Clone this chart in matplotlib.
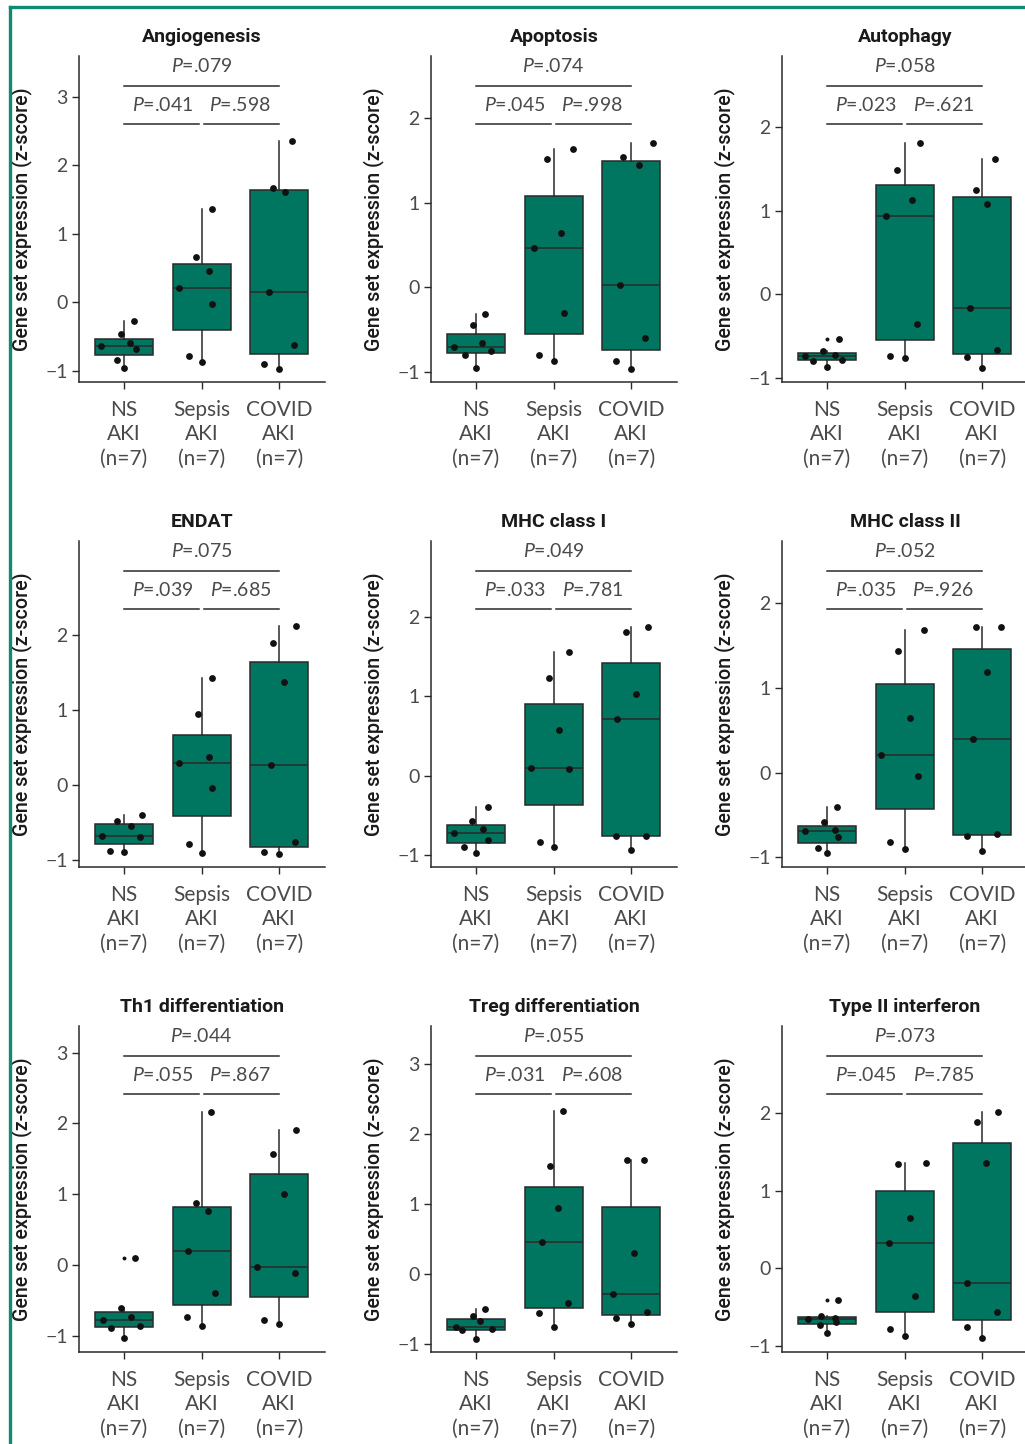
import numpy as np
import matplotlib
matplotlib.use("Agg")
import matplotlib.pyplot as plt
from matplotlib.lines import Line2D

plt.rcParams['font.family'] = ['Lato', 'DejaVu Sans']
plt.rcParams['mathtext.fontset'] = 'custom'
plt.rcParams['mathtext.it'] = 'Lato:italic'
plt.rcParams['mathtext.rm'] = 'Lato'

titles = ["Angiogenesis", "Apoptosis", "Autophagy",
          "ENDAT", "MHC class I", "MHC class II",
          "Th1 differentiation", "Treg differentiation", "Type II interferon"]
groups = ["NS\nAKI\n(n=7)", "Sepsis\nAKI\n(n=7)", "COVID\nAKI\n(n=7)"]

# z-scores per panel: [NS AKI, Sepsis AKI, COVID AKI]
angiogenesis = [[-0.28, -0.47, -0.593, -0.637, -0.69, -0.838, -0.96],
                [1.358, 0.657, 0.451, 0.211, -0.03, -0.789, -0.877],
                [2.353, 1.672, 1.613, 0.147, -0.623, -0.897, -0.98]]
apoptosis = [[-0.311, -0.441, -0.657, -0.70, -0.748, -0.80, -0.953],
             [1.642, 1.516, 0.642, 0.461, -0.307, -0.803, -0.874],
             [1.713, 1.543, 1.445, 0.024, -0.602, -0.874, -0.961]]
autophagy = [[-0.534, -0.68, -0.721, -0.737, -0.789, -0.793, -0.876],
             [1.817, 1.494, 1.131, 0.936, -0.351, -0.737, -0.757],
             [1.618, 1.255, 1.08, -0.163, -0.669, -0.753, -0.888]]
endat = [[-0.406, -0.482, -0.558, -0.683, -0.70, -0.888, -0.906],
         [1.424, 0.951, 0.366, 0.29, -0.049, -0.79, -0.911],
         [2.116, 1.888, 1.379, 0.263, -0.772, -0.902, -0.92]]
mhc1 = [[-0.397, -0.569, -0.674, -0.72, -0.803, -0.90, -0.975],
        [1.556, 1.23, 0.573, 0.092, 0.084, -0.828, -0.90],
        [1.87, 1.808, 1.029, 0.711, -0.757, -0.757, -0.929]]
mhc2 = [[-0.402, -0.579, -0.677, -0.689, -0.76, -0.89, -0.953],
        [1.689, 1.437, 0.65, 0.205, -0.035, -0.815, -0.898],
        [1.724, 1.724, 1.193, 0.402, -0.728, -0.748, -0.929]]
th1 = [[0.108, -0.60, -0.732, -0.779, -0.859, -0.892, -1.033],
       [2.164, 0.883, 0.761, 0.202, -0.394, -0.732, -0.864],
       [1.911, 1.573, 1.0, -0.028, -0.117, -0.779, -0.831]]
treg = [[-0.50, -0.595, -0.671, -0.757, -0.786, -0.80, -0.924],
        [2.319, 1.543, 0.943, 0.452, -0.41, -0.552, -0.748],
        [1.619, 1.629, 0.295, -0.286, -0.533, -0.629, -0.71]]
type2 = [[-0.412, -0.618, -0.644, -0.661, -0.691, -0.738, -0.833],
         [1.343, 1.361, 0.652, 0.322, -0.352, -0.79, -0.876],
         [2.017, 1.888, 1.356, -0.185, -0.567, -0.764, -0.906]]

# horizontal jitter of each point (category units)
jit_angiogenesis = [[0.133, -0.04, 0.08, -0.30, 0.155, -0.095, 0],
                    [0.13, -0.07, 0.10, -0.29, 0.14, -0.16, 0],
                    [0.16, -0.08, 0.08, -0.13, 0.19, -0.19, 0]]
jit_apoptosis = [[0.12, -0.04, 0.08, -0.28, 0.19, -0.14, 0],
                 [0.25, -0.08, 0.09, -0.25, 0.14, -0.19, 0],
                 [0.275, -0.10, 0.095, -0.14, 0.18, -0.20, 0]]
jit_autophagy = [[0.155, -0.05, 0.10, -0.28, 0.19, -0.18, 0],
                 [0.20, -0.095, 0.10, -0.245, 0.155, -0.19, 0],
                 [0.17, -0.085, 0.065, -0.16, 0.195, -0.20, 0]]
jit_endat = [[0.23, -0.086, 0.086, -0.29, 0.20, -0.18, 0],
             [0.14, -0.05, 0.095, -0.29, 0.14, -0.16, 0],
             [0.21, -0.08, 0.06, -0.11, 0.20, -0.20, 0]]
jit_mhc1 = [[0.155, -0.056, 0.095, -0.29, 0.16, -0.155, 0],
            [0.20, -0.065, 0.07, -0.29, 0.20, -0.17, 0],
            [0.21, -0.07, 0.065, -0.18, 0.19, -0.20, 0]]
jit_mhc2 = [[0.135, -0.04, 0.10, -0.29, 0.14, -0.11, 0],
            [0.245, -0.086, 0.07, -0.30, 0.176, -0.19, 0],
            [-0.086, 0.24, 0.056, -0.12, 0.195, -0.20, 0]]
jit_th1 = [[0.146, -0.043, 0.09, -0.27, 0.20, -0.17, 0],
           [0.116, -0.077, 0.086, -0.176, 0.168, -0.19, 0],
           [0.215, -0.077, 0.056, -0.28, 0.20, -0.19, 0]]
jit_treg = [[0.116, -0.04, 0.047, -0.26, 0.20, -0.18, 0],
            [0.12, -0.043, 0.06, -0.15, 0.19, -0.19, 0],
            [-0.056, 0.168, 0.03, -0.24, 0.198, -0.20, 0]]
jit_type2 = [[0.14, -0.073, 0.10, -0.25, 0.12, -0.086, 0],
             [-0.09, 0.27, 0.07, -0.20, 0.14, -0.19, 0],
             [0.20, -0.073, 0.047, -0.20, 0.194, -0.198, 0]]

p_overall = [".079", ".074", ".058", ".075", ".049", ".052", ".044", ".055", ".073"]
p_ns_sepsis = [".041", ".045", ".023", ".039", ".033", ".035", ".055", ".031", ".045"]
p_sepsis_covid = [".598", ".998", ".621", ".685", ".781", ".926", ".867", ".608", ".785"]

yticks = [[-1, 0, 1, 2, 3], [-1, 0, 1, 2], [-1, 0, 1, 2],
          [-1, 0, 1, 2], [-1, 0, 1, 2], [-1, 0, 1, 2],
          [-1, 0, 1, 2, 3], [-1, 0, 1, 2, 3], [-1, 0, 1, 2]]
ylims = [(-1.166, 3.6), (-1.12, 2.74), (-1.05, 2.855),
         (-1.10, 3.257), (-1.147, 2.95), (-1.114, 2.736),
         (-1.225, 3.375), (-1.109, 3.535), (-1.081, 3.128)]

data = [angiogenesis, apoptosis, autophagy, endat, mhc1, mhc2, th1, treg, type2]
jitters = [jit_angiogenesis, jit_apoptosis, jit_autophagy, jit_endat, jit_mhc1,
           jit_mhc2, jit_th1, jit_treg, jit_type2]

teal = '#00755f'
dark = '#2a2a2a'
grey = '#4a4a4a'
W, H = 1025, 1444
col_left = [79, 431, 782]
row_bottom = [382, 867, 1352]

fig = plt.figure(figsize=(W / 100, H / 100), dpi=100)

for i, name in enumerate(titles):
    r, c = divmod(i, 3)
    ax = fig.add_axes([col_left[c] / W, 1 - row_bottom[r] / H, 246 / W, 326 / H])
    ax.boxplot(data[i], positions=[1, 2, 3], widths=0.75, patch_artist=True,
               showcaps=False,
               boxprops=dict(facecolor=teal, edgecolor=dark, linewidth=1.1),
               medianprops=dict(color=dark, linewidth=1.1),
               whiskerprops=dict(color=dark, linewidth=1.1),
               flierprops=dict(marker='o', markersize=2.8, markerfacecolor='#111',
                               markeredgecolor='none'))
    for g in range(3):
        xs = g + 1 + np.array(jitters[i][g])
        ax.scatter(xs, data[i][g], s=24, color='#111', zorder=3, linewidths=0)

    ax.set_xlim(0.42, 3.59)
    ax.set_ylim(*ylims[i])
    ax.set_yticks(yticks[i])
    ax.set_xticks([1, 2, 3])
    ax.set_xticklabels(groups, linespacing=1.27)
    for s in ['top', 'right']:
        ax.spines[s].set_visible(False)
    for s in ['left', 'bottom']:
        ax.spines[s].set_color(dark)
        ax.spines[s].set_linewidth(1.1)
    ax.tick_params(axis='y', length=5, width=1, color=dark, labelsize=14,
                   labelcolor=grey, pad=3)
    ax.tick_params(axis='x', length=5, width=1, color=dark, labelsize=15,
                   labelcolor=grey, pad=8)

    ax.set_title(name, fontsize=14, fontweight='bold', family='Roboto',
                 color='#1a1a1a', pad=10)
    ax.set_ylabel("Gene set expression (z-score)", fontsize=14.2, family='Roboto',
                  fontweight='medium', color='#1a1a1a')
    ax.yaxis.set_label_coords(-0.19, 0.5)

    # significance brackets
    tr = ax.get_xaxis_transform()
    ax.plot([1, 3], [0.908, 0.908], transform=tr, color=dark, lw=1.1, clip_on=False)
    ax.plot([1, 1.97], [0.791, 0.791], transform=tr, color=dark, lw=1.1, clip_on=False)
    ax.plot([2.03, 3], [0.791, 0.791], transform=tr, color=dark, lw=1.1, clip_on=False)
    ax.text(2, 0.968, r"$\it{P}$=" + p_overall[i], transform=tr, ha='center',
            va='center', fontsize=14, color=grey)
    ax.text(1.5, 0.85, r"$\it{P}$=" + p_ns_sepsis[i], transform=tr, ha='center',
            va='center', fontsize=14, color=grey)
    ax.text(2.5, 0.85, r"$\it{P}$=" + p_sepsis_covid[i], transform=tr, ha='center',
            va='center', fontsize=14, color=grey)

# green frame on top and left edges
frame = '#118a73'
fig.add_artist(Line2D([10 / W, 10 / W], [0, 1 - 7 / H], color=frame, lw=2.4))
fig.add_artist(Line2D([10 / W, 1], [1 - 7 / H, 1 - 7 / H], color=frame, lw=2.4))

fig.savefig("out.png", dpi=100)
